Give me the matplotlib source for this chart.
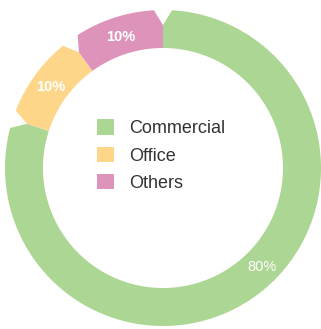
import numpy as np
import matplotlib
matplotlib.use('Agg')
import matplotlib.pyplot as plt
from matplotlib.path import Path
from matplotlib.patches import PathPatch, Patch

plt.rcParams['font.family'] = ['Liberation Sans', 'DejaVu Sans']

categories = ['Commercial', 'Office', 'Others']
shares = [80, 10, 10]
colors = ['#acd693', '#fdd68a', '#de94ba']


def notched_path(w, cut_deg=3.3, cut_r=15.0):
    """Ring segment with its two outer corners cut off."""
    cx, cy = w.center
    r_out = w.r
    r_in = w.r - w.width
    t1, t2 = w.theta1, w.theta2

    def pol(r, t):
        a = np.deg2rad(t)
        return (cx + r * np.cos(a), cy + r * np.sin(a))

    outer = np.linspace(t1 + cut_deg, t2 - cut_deg, 200)
    inner = np.linspace(t2, t1, 200)
    pts = [pol(r_in, t1), pol(r_out - cut_r, t1)]
    pts += [pol(r_out, t) for t in outer]
    pts += [pol(r_out - cut_r, t2)]
    pts += [pol(r_in, t) for t in inner]
    pts.append(pts[0])
    codes = [Path.MOVETO] + [Path.LINETO] * (len(pts) - 2) + [Path.CLOSEPOLY]
    return Path(pts, codes)


fig = plt.figure(figsize=(3.21, 3.29), dpi=100)
ax = fig.add_axes([0, 0, 1, 1])

wedges, texts, autotexts = ax.pie(
    shares,
    colors=colors,
    startangle=90,
    counterclock=False,
    radius=158,
    center=(163, 161),
    autopct='%d%%',
    pctdistance=0.875,
    wedgeprops=dict(width=38, linewidth=0),
    textprops=dict(color='white', fontsize=10.5, fontweight='bold'),
)

for w in wedges:
    w.set_visible(False)
    ax.add_patch(PathPatch(notched_path(w), facecolor=w.get_facecolor(), lw=0))

# the big slice's label sits further round than its middle
a = np.deg2rad(-45)
autotexts[0].set_position((163 + 140 * np.cos(a), 161 + 140 * np.sin(a)))
autotexts[0].set_fontweight('normal')

handles = [Patch(facecolor=c, edgecolor='none') for c in colors]
ax.legend(
    handles, categories,
    loc='upper left',
    bbox_to_anchor=(97 / 321, 1 - 119.5 / 329),
    frameon=False,
    fontsize=13,
    handlelength=0.95,
    handleheight=0.95,
    handletextpad=0.85,
    labelspacing=0.5,
    borderpad=0,
    borderaxespad=0,
    labelcolor='#333333',
)

ax.set_xlim(0, 321)
ax.set_ylim(0, 329)
ax.set_aspect('equal')
ax.axis('off')

fig.savefig('out.png', dpi=100)
